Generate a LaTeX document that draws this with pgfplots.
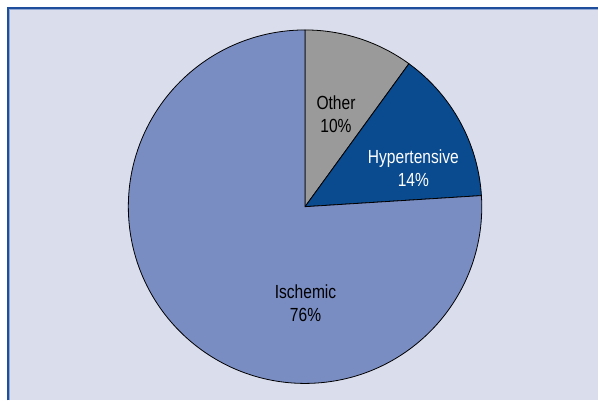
\documentclass[border=0pt]{standalone}
\usepackage{pgfplots}
\pgfplotsset{compat=1.18}
\usepackage{fontspec}
\setmainfont{Liberation Sans}[FakeStretch=0.82]

\definecolor{panelbg}{HTML}{DADDEC}
\definecolor{framedark}{HTML}{1F4F9C}
\definecolor{framelight}{HTML}{8FA6D2}
\definecolor{othergray}{HTML}{9A9A9A}
\definecolor{hyperblue}{HTML}{0A4A8F}
\definecolor{ischblue}{HTML}{7A8DC3}

% pie geometry (centre and radius in axis units)
\newcommand\cx{305.5}
\newcommand\cy{194}
\newcommand\rad{177}
% shares in percent
\newcommand\vOther{10}
\newcommand\vHyper{14}
\newcommand\vIsch{76}

\begin{document}
\begin{tikzpicture}
\begin{axis}[
  x=1pt, y=1pt,
  xmin=0, xmax=599, ymin=0, ymax=401,
  scale only axis, hide axis, clip=false,
]
  % panel
  \fill[white] (axis cs:0,0) rectangle (axis cs:599,401);
  \fill[panelbg] (axis cs:9,0) rectangle (axis cs:599,392);
  \draw[framelight, line width=1pt] (axis cs:9.6,0) -- (axis cs:9.6,391.4) -- (axis cs:599,391.4);
  \draw[framedark, line width=1.8pt] (axis cs:8.3,0) -- (axis cs:8.3,392.7) -- (axis cs:599,392.7);

  % slices, clockwise from 12 o'clock
  \filldraw[othergray, draw=black, line width=0.8pt]
    (axis cs:\cx,\cy) -- ++(90:\rad pt)
    arc[start angle=90, end angle={90-3.6*\vOther}, radius=\rad pt] -- cycle;
  \filldraw[hyperblue, draw=black, line width=0.8pt]
    (axis cs:\cx,\cy) -- ++({90-3.6*\vOther}:\rad pt)
    arc[start angle={90-3.6*\vOther}, end angle={90-3.6*(\vOther+\vHyper)}, radius=\rad pt] -- cycle;
  \filldraw[ischblue, draw=black, line width=0.8pt]
    (axis cs:\cx,\cy) -- ++({90-3.6*(\vOther+\vHyper)}:\rad pt)
    arc[start angle={90-3.6*(\vOther+\vHyper)}, end angle={-270}, radius=\rad pt] -- cycle;

  % labels
  \begin{scope}[every node/.style={align=center, font=\fontsize{19}{23}\selectfont, inner sep=0pt}]
    \node[black] at (axis cs:336.5,287) {Other\\\vOther\%};
    \node[white] at (axis cs:414,233) {Hypertensive\\\vHyper\%};
    \node[black] at (axis cs:306,97) {Ischemic\\\vIsch\%};
  \end{scope}
\end{axis}
\end{tikzpicture}
\end{document}
